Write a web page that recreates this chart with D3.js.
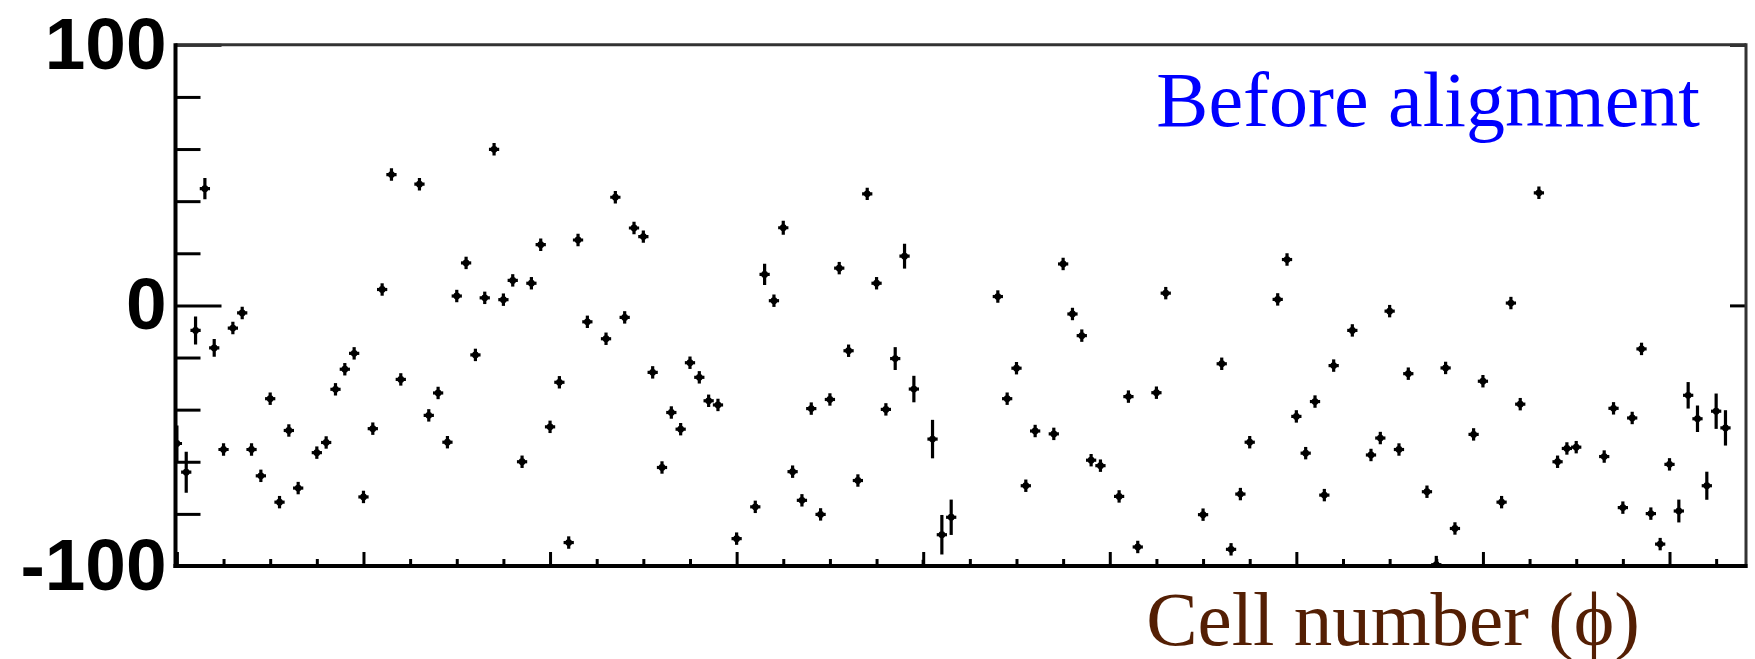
<!DOCTYPE html>
<html>
<head>
<meta charset="utf-8">
<script src="https://cdn.jsdelivr.net/npm/d3@7"></script>
<style>
  body { margin: 0; background: #fff; }
  svg { display: block; }
</style>
</head>
<body>
<svg id="chart" width="1755" height="659"></svg>
<script>
// cell index (phi) and residual before alignment
var cells = [0,1,2,3,4,5,6,7,8,9,10,11,12,13,15,16,17,18,19,20,
  21,22,23,24,26,27,28,29,30,31,32,33,34,35,36,37,38,39,40,41,
  42,43,44,46,47,48,49,50,51,52,53,54,55,56,57,58,60,62,63,64,
  65,66,67,68,69,70,71,72,73,74,75,76,77,78,79,80,81,82,83,88,
  89,90,91,92,94,95,96,97,98,99,101,102,103,105,106,110,112,113,114,115,
  118,119,120,121,122,123,124,126,128,129,130,131,132,134,135,136,137,139,140,142,
  143,144,146,148,149,150,153,154,155,156,157,158,159,160,161,162,163,164,165,166];
var values = [-53,-64,-9.6,44.8,-16.3,-55.3,-8.7,-2.9,-55.3,-65.4,-35.8,-75.5,-48,-70.1,-56.5,-52.6,-32.2,-24.5,-18.4,-73.5,
  -47.3,6.1,50.2,-28.4,46.5,-42.2,-33.6,-52.5,3.6,16.3,-19,2.9,59.9,2.2,9.6,-60,8.5,23.3,-46.6,-29.5,
  -91,25.1,-6.3,-12.8,41.5,-4.6,29.7,26.4,-25.7,-62.2,-41.1,-47.5,-22,-27.6,-36.6,-38.2,-89.5,-77.3,11.9,1.8,
  29.8,-63.8,-74.8,-39.6,-80.2,-36.1,14.3,-17.4,-67.2,42.8,8.5,-39.9,-20.4,18.9,-32.1,-101,-51.3,-88,-81.3,3.4,
  -35.8,-24.1,-69.2,-48.2,-49.3,15.9,-3.3,-11.6,-59.4,-61.5,-73.3,-35,-92.7,-33.5,4.7,-80.3,-22.4,-93.6,-72.4,-52.5,
  2.3,17.6,-42.6,-56.7,-36.9,-72.8,-23.1,-9.6,-57.4,-50.9,-2.2,-55.3,-26.2,-71.5,-99.5,-24,-85.6,-49.5,-29.1,-75.5,
  0.9,-37.9,43.2,-60,-54.9,-54.4,-58,-39.5,-77.6,-43.2,-16.7,-79.9,-91.6,-61,-78.9,-34.5,-43.5,-69.2,-40.6,-47];
// vertical error, most points ~2
var errors = [6.5,7.5,5,3.7,3,2,2,2,2,2,2,2,2,2,2,2,2,2,2,2,
  2,2,2,2,2,2,2,2,2,2,2,2,2,2,2,2,2,2,2,2,
  2,2,2,2,2,2,2,2,2,2,2,2,2,2,2,2,2,2,3.7,2,
  2.3,2,2,2,2,2,2,2,2,2,2,2,4,4.4,4.7,3,7,7.2,6.4,2,
  2,2,2,2,2,2,2,2,2,2,2,2,2,2,2,2,2,2,2,2,
  2,2,2,2,2,2,2,2,2,2,2,2,2,2,3,2,2,2,2,2,
  2,2,2,2,2,2,2,2,2,2,2,2,2,2,4,4.7,4.7,5,6.4,6.4];

var yTicks = [-100,-80,-60,-40,-20,0,20,40,60,80,100];
var yLabels = [-100,0,100];
var xMinor = d3.range(0, 168, 5);
var xMajor = d3.range(0, 168, 20);

var svg = d3.select("#chart");
var pL = 175.5, pR = 1746, pT = 44.8, pB = 566;

var x = d3.scaleLinear().domain([-0.15, 168.2]).range([pL, pR]);
var y = d3.scaleLinear().domain([-100, 100]).range([pB, pT]);

svg.append("defs").append("clipPath").attr("id", "frame")
  .append("rect")
  .attr("x", pL).attr("y", pT)
  .attr("width", pR - pL).attr("height", pB - pT);

// points with error bars
var pts = cells.map(function(c, i){ return {c: c, v: values[i], e: errors[i]}; });
var g = svg.append("g").attr("clip-path", "url(#frame)");
var pt = g.selectAll("g.pt").data(pts).enter().append("g").attr("class", "pt");
pt.append("line")
  .attr("x1", function(d){ return x(d.c); })
  .attr("x2", function(d){ return x(d.c); })
  .attr("y1", function(d){ return y(d.v + d.e) - 1; })
  .attr("y2", function(d){ return y(d.v - d.e) + 1; })
  .attr("stroke", "#000").attr("stroke-width", 3.2);
pt.append("line")
  .attr("x1", function(d){ return x(d.c - 0.55); })
  .attr("x2", function(d){ return x(d.c + 0.55); })
  .attr("y1", function(d){ return y(d.v); })
  .attr("y2", function(d){ return y(d.v); })
  .attr("stroke", "#000").attr("stroke-width", 3.2);
pt.append("circle")
  .attr("cx", function(d){ return x(d.c); })
  .attr("cy", function(d){ return y(d.v); })
  .attr("r", 3.4).attr("fill", "#000");

// x axis ticks (inside, up)
var xAxis = svg.append("g")
  .attr("transform", "translate(0," + pB + ")")
  .call(d3.axisBottom(x).tickValues(xMinor).tickSize(-7).tickFormat(""));
xAxis.select(".domain").remove();
xAxis.selectAll(".tick line")
  .attr("stroke-width", 3)
  .attr("y2", function(d){ return xMajor.indexOf(d) >= 0 ? -14 : -7; });

// y axis left
var yAxis = svg.append("g")
  .attr("transform", "translate(" + pL + ",0)")
  .call(d3.axisLeft(y).tickValues(yTicks).tickSize(-25).tickPadding(9)
    .tickFormat(function(d){ return yLabels.indexOf(d) >= 0 ? d : ""; }));
yAxis.select(".domain").remove();
yAxis.selectAll(".tick line")
  .attr("stroke-width", 3)
  .attr("x2", function(d){ return yLabels.indexOf(d) >= 0 ? 46 : 25; });
yAxis.selectAll(".tick text")
  .attr("font-family", "'Liberation Sans', Arial, sans-serif")
  .attr("font-weight", "bold")
  .attr("font-size", 73)
  .attr("fill", "#000");

// right side ticks
var yRight = svg.append("g")
  .attr("transform", "translate(" + pR + ",0)")
  .call(d3.axisRight(y).tickValues(yLabels).tickSize(-16).tickFormat(""));
yRight.select(".domain").remove();
yRight.selectAll(".tick line").attr("stroke-width", 3);

// frame
svg.append("line").attr("x1", pL).attr("x2", pR).attr("y1", pT).attr("y2", pT)
  .attr("stroke", "#333").attr("stroke-width", 3);
svg.append("line").attr("x1", pR).attr("x2", pR).attr("y1", pT - 1.5).attr("y2", pB + 2)
  .attr("stroke", "#333").attr("stroke-width", 3);
svg.append("line").attr("x1", pL).attr("x2", pL).attr("y1", pT - 1.5).attr("y2", pB + 2)
  .attr("stroke", "#000").attr("stroke-width", 4);
svg.append("line").attr("x1", pL - 2).attr("x2", pR + 1.5).attr("y1", pB).attr("y2", pB)
  .attr("stroke", "#000").attr("stroke-width", 4);

// texts
svg.append("text")
  .attr("x", 1700).attr("y", 126)
  .attr("text-anchor", "end")
  .attr("font-family", "'Liberation Serif', 'Times New Roman', serif")
  .attr("font-size", 78)
  .attr("fill", "#0000ff")
  .text("Before alignment");

svg.append("text")
  .attr("x", 1640).attr("y", 645)
  .attr("text-anchor", "end")
  .attr("font-family", "'Liberation Serif', 'Times New Roman', serif")
  .attr("font-size", 77)
  .attr("fill", "#541f04")
  .text("Cell number (\u03d5)");
</script>
</body>
</html>
